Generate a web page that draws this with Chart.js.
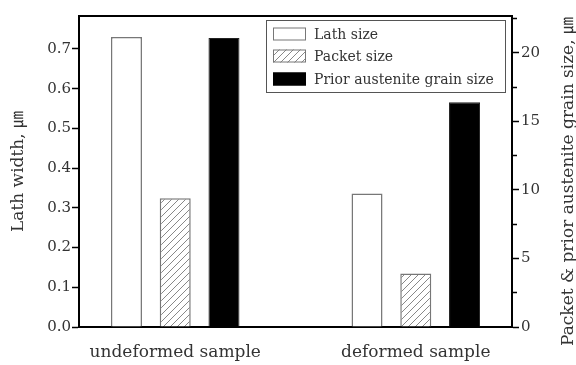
<!DOCTYPE html>
<html>
<head>
<meta charset="utf-8">
<script src="https://cdn.jsdelivr.net/npm/chart.js@4"></script>
<style>
  html, body { margin: 0; padding: 0; background: #fff; }
</style>
</head>
<body>
<canvas id="myChart" width="576" height="365"></canvas>
<script>
const categories = ['undeformed sample', 'deformed sample'];
const categoryPos = [0, 1];
const lathWidth = [0.73, 0.336];
const packetSize = [9.4, 3.9];
const priorGrainSize = [21.1, 16.4];
const seriesNames = ['Lath size', 'Packet size', 'Prior austenite grain size'];
const leftTicks = [0, 0.05, 0.1, 0.15, 0.2, 0.25, 0.3, 0.35, 0.4, 0.45, 0.5, 0.55, 0.6, 0.65, 0.7, 0.75];
const rightTicks = [0, 2.5, 5, 7.5, 10, 12.5, 15, 17.5, 20, 22.5];
const leftTitle = 'Lath width, ㎛';
const rightTitle = 'Packet & prior austenite grain size, ㎛';

const serif = '"DejaVu Serif", "Noto Sans CJK KR", serif';
const textColor = '#333';

// diagonal hatch for the packet bars
function hatch() {
  const c = document.createElement('canvas');
  c.width = 7; c.height = 7;
  const g = c.getContext('2d');
  g.fillStyle = '#fff';
  g.fillRect(0, 0, 7, 7);
  g.strokeStyle = '#888';
  g.lineWidth = 1;
  g.beginPath();
  g.moveTo(-1, 8); g.lineTo(8, -1);
  g.moveTo(-1, 1); g.lineTo(1, -1);
  g.moveTo(6, 8); g.lineTo(8, 6);
  g.stroke();
  return g.createPattern(c, 'repeat');
}
const hatchFill = hatch();

const points = vals => categoryPos.map((x, i) => ({x: x, y: vals[i]}));

const swatches = [
  {fill: '#fff', stroke: '#777'},
  {fill: hatchFill, stroke: '#777'},
  {fill: '#000', stroke: '#000'},
];

const frameAndLegend = {
  id: 'frameAndLegend',
  afterDraw(chart) {
    const {ctx, chartArea: a} = chart;
    ctx.save();
    // top of the frame
    ctx.strokeStyle = '#000';
    ctx.lineWidth = 2;
    ctx.beginPath();
    ctx.moveTo(a.left, a.top);
    ctx.lineTo(a.right, a.top);
    ctx.stroke();

    // legend box
    ctx.fillStyle = '#fff';
    ctx.fillRect(266, 20, 239, 72);
    ctx.strokeStyle = '#555';
    ctx.lineWidth = 1;
    ctx.strokeRect(266.5, 20.5, 239, 72);
    ctx.font = '14px ' + serif;
    ctx.textBaseline = 'middle';
    ctx.textAlign = 'left';
    const rows = [34, 56, 79];
    seriesNames.forEach((name, i) => {
      const s = swatches[i];
      ctx.fillStyle = s.fill;
      ctx.fillRect(273, rows[i] - 6.5, 33, 13);
      ctx.strokeStyle = s.stroke;
      ctx.strokeRect(273.5, rows[i] - 6, 32, 12);
      ctx.fillStyle = textColor;
      ctx.fillText(name, 314, rows[i] + 1);
    });

    // right axis title, reading bottom to top
    ctx.translate(569, (a.top + a.bottom) / 2 + 10);
    ctx.rotate(-Math.PI / 2);
    ctx.font = '17px ' + serif;
    ctx.textAlign = 'center';
    ctx.fillStyle = textColor;
    ctx.fillText(rightTitle, 0, 0);
    ctx.restore();
  }
};

const config = {
  type: 'bar',
  data: {
    datasets: [{
      label: seriesNames[0],
      data: points(lathWidth),
      yAxisID: 'y',
      backgroundColor: '#fff',
      borderColor: '#777',
      borderWidth: 1.5,
    }, {
      label: seriesNames[1],
      data: points(packetSize),
      yAxisID: 'y1',
      backgroundColor: hatchFill,
      borderColor: '#777',
      borderWidth: 1.5,
    }, {
      label: seriesNames[2],
      data: points(priorGrainSize),
      yAxisID: 'y1',
      backgroundColor: '#000',
      borderColor: '#222',
      borderWidth: 1,
    }]
  },
  options: {
    responsive: false,
    animation: false,
    categoryPercentage: 0.608,
    barPercentage: 0.636,
    layout: { padding: { top: 16, left: 0, right: 0, bottom: 0 } },
    plugins: {
      legend: { display: false },
      tooltip: { enabled: false }
    },
    scales: {
      x: {
        type: 'linear',
        offset: false,
        min: -0.4,
        max: 1.4,
        afterBuildTicks: s => { s.ticks = categoryPos.map(v => ({value: v})); },
        afterFit: s => { s.height = 38; },
        grid: { drawOnChartArea: false, drawTicks: false, offset: false },
        border: { color: '#000', width: 2 },
        ticks: {
          padding: 15,
          color: textColor,
          font: { family: serif, size: 17 },
          callback: (v, i) => categories[i]
        }
      },
      y: {
        position: 'left',
        min: 0,
        max: 0.783,
        afterBuildTicks: s => { s.ticks = leftTicks.map(v => ({value: v})); },
        afterFit: s => { s.width = 79; },
        grid: {
          drawOnChartArea: false,
          tickLength: 7,
          tickColor: '#000',
          tickWidth: 1.5,
          tickBorderDash: c => c.index % 2 ? [0, 3, 4, 20] : []
        },
        border: { color: '#000', width: 2 },
        title: {
          display: true,
          text: leftTitle,
          color: textColor,
          font: { family: serif, size: 17 },
          padding: { top: 8, bottom: 0 }
        },
        ticks: {
          padding: 1,
          color: textColor,
          font: { family: serif, size: 15 },
          callback: (v, i) => i % 2 ? '' : leftTicks[i].toFixed(1)
        }
      },
      y1: {
        position: 'right',
        min: 0,
        max: 22.7,
        afterBuildTicks: s => { s.ticks = rightTicks.map(v => ({value: v})); },
        afterFit: s => { s.width = 64; },
        grid: {
          drawOnChartArea: false,
          tickLength: 7,
          tickColor: '#000',
          tickWidth: 1.5,
          tickBorderDash: c => c.index % 2 ? [4, 20] : []
        },
        border: { color: '#000', width: 2 },
        ticks: {
          padding: 2,
          color: textColor,
          font: { family: serif, size: 15 },
          callback: (v, i) => i % 2 ? '' : String(rightTicks[i])
        }
      }
    }
  },
  plugins: [frameAndLegend]
};

const myChart = new Chart(document.getElementById('myChart'), config);
</script>
</body>
</html>
